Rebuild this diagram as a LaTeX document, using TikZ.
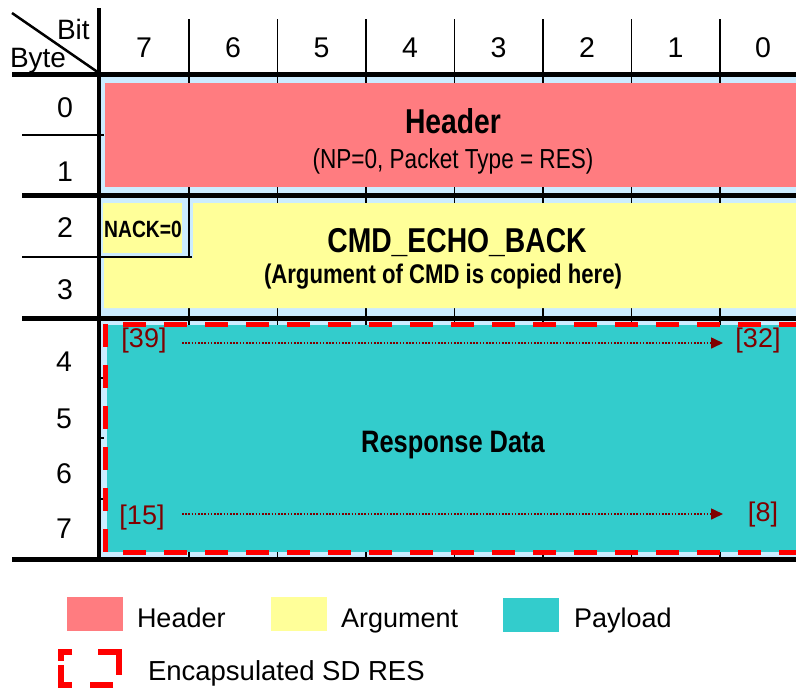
\documentclass[tikz,border=0pt]{standalone}
\usepackage{fontspec}
\setmainfont{Liberation Sans}
\newfontfamily\nar[FakeStretch=0.82]{Liberation Sans}
\usetikzlibrary{arrows.meta}
\definecolor{lblue}{HTML}{CCECFF}
\definecolor{hdr}{HTML}{FF7C80}
\definecolor{argc}{HTML}{FFFF99}
\definecolor{pay}{HTML}{33CCCC}
\definecolor{dred}{HTML}{800000}
\definecolor{encred}{HTML}{FF0000}
\newcommand{\fsz}[1]{\fontsize{#1}{#1}\selectfont}
\begin{document}
\begin{tikzpicture}[x=1pt,y=-1pt,
  thickline/.style={line width=5pt},
  thinline/.style={line width=1.5pt},
  gridline/.style={line width=1.5pt},
  txt/.style={inner sep=0pt, outer sep=0pt},
  num/.style={txt, font=\fsz{28.5}},
  bitlbl/.style={txt, font=\fsz{27}, text=dred},
  dotarrow/.style={dred, line width=1.6pt, dash pattern=on 1.6pt off 1.6pt, -{Triangle[length=12pt,width=11pt]}},
  encdash/.style={encred, line width=5pt},
  legtxt/.style={txt, anchor=base west, font=\fsz{27}},
]
\clip (0,0) rectangle (796,689);
\fill[white] (0,0) rectangle (796,689);

% light blue background of the frame
\fill[lblue] (100,74) rectangle (812,559);

% column grid lines
\foreach \x in {189,277.5,366,454.5,543,631.5,720}
  \draw[gridline] (\x,19) -- (\x,559);

% row ticks in the blue band (rows 4-7)
\foreach \y in {378,438,499}
  \draw[thinline] (100,\y) -- (104,\y);

% coloured fields
\fill[hdr] (105,83) rectangle (812,187);
\fill[argc] (103,203) rectangle (182,253);
\fill[argc] (193,203) -- (812,203) -- (812,308) -- (104,308) -- (104,258) -- (193,258) -- cycle;
\fill[pay] (107,325) rectangle (812,552);

% row separators
\draw[thinline] (22,135) -- (104,135);
\draw[thinline] (22,257) -- (192,257);

% thick frame lines
\draw[thickline] (12,74) -- (812,74);
\draw[thickline] (22,195) -- (812,195);
\draw[thickline] (22,318) -- (812,318);
\draw[thickline] (12,559.5) -- (812,559.5);
\draw[line width=4.5pt] (99,8) -- (99,562);

% corner
\draw[line width=2.5pt] (12,13) -- (99,73);
\node[txt, anchor=base west, font=\fsz{28}] (bit) at (57,39) {Bit};
\node[txt, anchor=base west, font=\fsz{28}] (byte) at (10,67) {Byte};

% column numbers
\node[num, anchor=base] (c7) at (144,57) {7};
\node[num, anchor=base] (c6) at (233,57) {6};
\node[num, anchor=base] (c5) at (321.5,57) {5};
\node[num, anchor=base] (c4) at (410,57) {4};
\node[num, anchor=base] (c3) at (498.5,57) {3};
\node[num, anchor=base] (c2) at (587,57) {2};
\node[num, anchor=base] (c1) at (675.5,57) {1};
\node[num, anchor=base] (c0) at (763,57) {0};

% row numbers
\node[num] (r0) at (65,108) {0};
\node[num] (r1) at (65,172) {1};
\node[num] (r2) at (65,228) {2};
\node[num] (r3) at (65,290) {3};
\node[num] (r4) at (64,362) {4};
\node[num] (r5) at (64,419) {5};
\node[num] (r6) at (64,474) {6};
\node[num] (r7) at (64,529) {7};

% field texts
\node[txt, anchor=base, font=\nar\bfseries\fsz{34.5}] (hdrt) at (453,133) {Header};
\node[txt, anchor=base, font=\nar\fsz{27.5}] (hdrs) at (453,168) {(NP=0, Packet Type = RES)};
\node[txt, anchor=base, font=\nar\bfseries\fsz{23.5}] (nack) at (143,237) {NACK=0};
\node[txt, anchor=base, font=\nar\bfseries\fsz{34.5}] (cmd) at (457,252) {CMD\_ECHO\_BACK};
\node[txt, anchor=base, font=\nar\bfseries\fsz{27}] (cmds) at (443,283) {(Argument of CMD is copied here)};
\node[txt, anchor=base, font=\nar\bfseries\fsz{31}] (resp) at (453,452) {Response Data};

% bit index labels and arrows
\node[bitlbl] (b39) at (144,341) {[39]};
\node[bitlbl] (b32) at (758,341) {[32]};
\node[bitlbl] (b15) at (142,518) {[15]};
\node[bitlbl] (b8) at (763,515) {[8]};
\coordinate (a1s) at (182,343);
\coordinate (a1e) at (723,343);
\coordinate (a2s) at (182,514);
\coordinate (a2e) at (723,514);
\draw[dotarrow] (a1s) -- (a1e);
\draw[dotarrow] (a2s) -- (a2e);

% encapsulated SD RES dashed frame
\draw[encdash, dash pattern=on 23pt off 18pt, dash phase=23pt] (105,324.5) -- (812,324.5);
\draw[encdash, dash pattern=on 23pt off 18pt, dash phase=23pt] (105,552.5) -- (812,552.5);
\draw[encdash, dash pattern=on 23pt off 18pt] (105,324) -- (105,553);

% legend
\fill[hdr] (67,597) rectangle (123,631);
\node[legtxt] (lh) at (137,627) {Header};
\fill[argc] (271,597) rectangle (327,631);
\node[legtxt] (la) at (341,627) {Argument};
\fill[pay] (503,598) rectangle (559,632);
\node[legtxt] (lp) at (574,627) {Payload};
\draw[encred, line width=6pt, miter limit=10] (72,652) -- (61,652) -- (61,661);
\draw[encred, line width=6pt, miter limit=10] (98,652) -- (119,652) -- (119,675);
\draw[encred, line width=6pt] (113,685) -- (90,685);
\draw[encred, line width=6pt, miter limit=10] (61,665) -- (61,685) -- (72,685);
\node[legtxt, font=\fsz{27.5}] (le) at (148,680) {Encapsulated SD RES};
\end{tikzpicture}
\end{document}
